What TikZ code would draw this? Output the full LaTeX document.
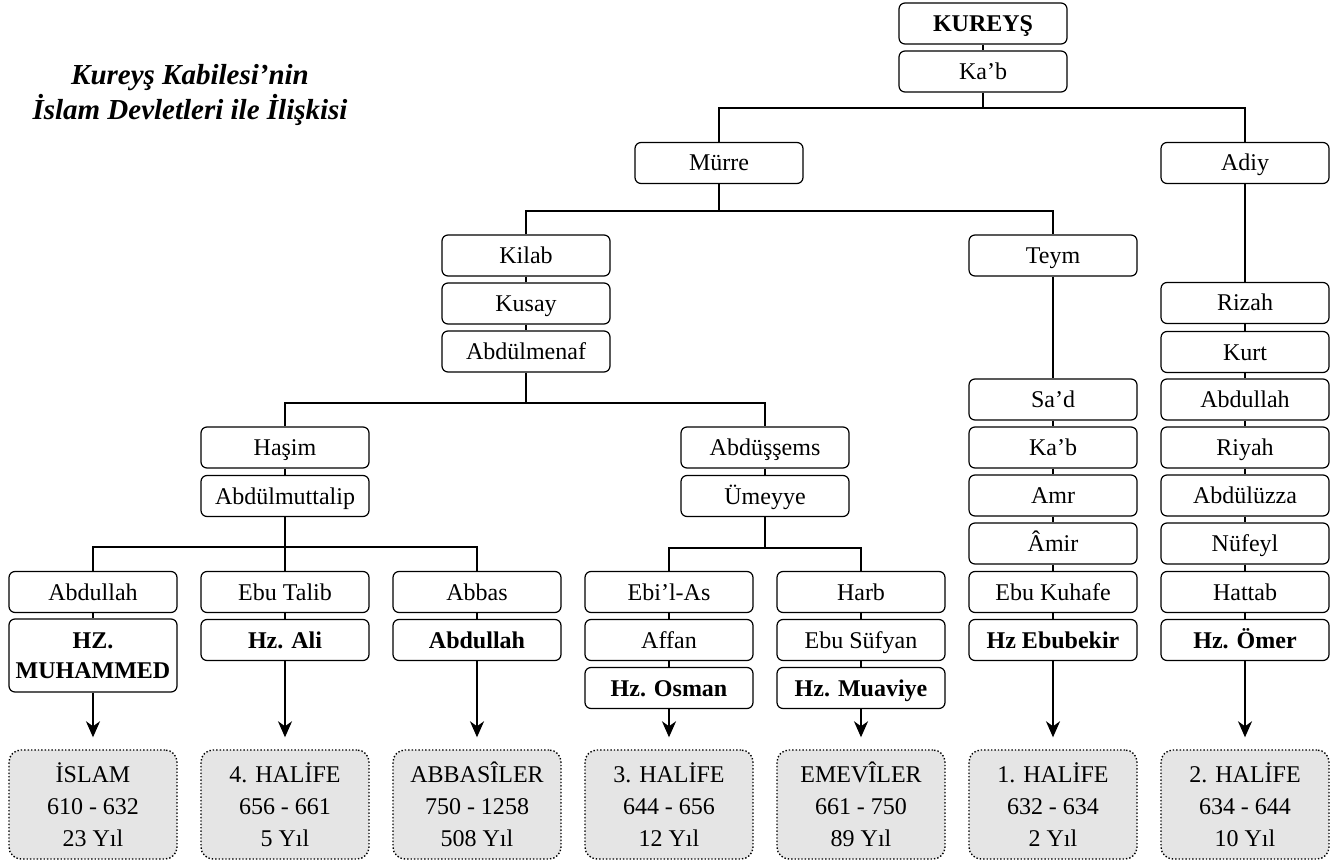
\documentclass[tikz,border=0pt]{standalone}
\usepackage{fontspec}
\setmainfont{Liberation Serif}
\usetikzlibrary{arrows.meta}
\tikzset{
    kbase/.style = {rectangle, rounded corners=3pt, draw=black, line width=0.6pt, minimum width=84pt, minimum height=20.5pt, inner sep=1pt, align=center, font=\fontsize{12}{15}\selectfont, text=black},
    kbox/.style = {kbase, text height=9pt, text depth=1pt},
    kboxb/.style = {kbox, font=\fontsize{12}{15}\selectfont\bfseries},
    kboxs/.style = {rectangle, rounded corners=6pt, draw=black, line width=0.7pt, densely dotted, fill=gray!20, minimum width=84pt, minimum height=54.5pt, inner sep=1pt, align=center, font=\fontsize{12}{16}\selectfont, text=black},
    edgen/.style = {-, line width=1pt, black},
    edgea/.style = {-{Stealth[length=8pt,width=7pt,inset=2.5pt]}, line width=1pt, black, shorten >=6pt}
}

\begin{document}
\begin{tikzpicture}[x=0.5pt,y=-0.5pt]
\useasboundingbox (0,0) rectangle (1333,861);
\node[font=\fontsize{14.5}{17.5}\selectfont\bfseries\itshape, align=center] at (190, 95) (title) {Kureyş Kabilesi’nin\\İslam Devletleri ile İlişkisi};
%
\node[kboxb] at (983, 23.5) (t1) {KUREYŞ};
\node[kbox] at (983, 71.5) (t2) {Ka’b};
\node[kbox] at (719, 163) (m1) {Mürre};
\node[kbox] at (1245, 163) (a1) {Adiy};
\node[kbox] at (526, 255.5) (m2) {Kilab};
\node[kbox] at (526, 303.5) (m3) {Kusay};
\node[kbox] at (526, 351.5) (m4) {Abdülmenaf};
\node[kbox] at (1053, 255.5) (y1) {Teym};
\node[kbox] at (285, 447.5) (h1) {Haşim};
\node[kbox] at (285, 496) (h2) {Abdülmuttalip};
\node[kbox] at (765, 447.5) (s1) {Abdüşşems};
\node[kbox] at (765, 496) (s2) {Ümeyye};
%
\node[kbox] at (93, 592) (c1) {Abdullah};
\node[kbase, minimum height=36.5pt, font=\fontsize{12}{15}\selectfont\bfseries] at (93, 655.5) (c1b) {HZ.\\MUHAMMED};
\node[kbox] at (285, 592) (c2) {Ebu Talib};
\node[kboxb] at (285, 640) (c2b) {Hz. Ali};
\node[kbox] at (477, 592) (c3) {Abbas};
\node[kboxb] at (477, 640) (c3b) {Abdullah};
\node[kbox] at (669, 592) (d1) {Ebi’l-As};
\node[kbox] at (669, 640) (d2) {Affan};
\node[kboxb] at (669, 688) (d3) {Hz. Osman};
\node[kbox] at (861, 592) (e1) {Harb};
\node[kbox] at (861, 640) (e2) {Ebu Süfyan};
\node[kboxb] at (861, 688) (e3) {Hz. Muaviye};
%
\node[kbox] at (1053, 399.5) (y2) {Sa’d};
\node[kbox] at (1053, 447.5) (y3) {Ka’b};
\node[kbox] at (1053, 495.5) (y4) {Amr};
\node[kbox] at (1053, 543.5) (y5) {Âmir};
\node[kbox] at (1053, 592) (y6) {Ebu Kuhafe};
\node[kboxb] at (1053, 640) (y7) {Hz Ebubekir};
%
\node[kbox] at (1245, 303) (a2) {Rizah};
\node[kbox] at (1245, 352) (a3) {Kurt};
\node[kbox] at (1245, 399.5) (a4) {Abdullah};
\node[kbox] at (1245, 447.5) (a5) {Riyah};
\node[kbox] at (1245, 495.5) (a6) {Abdülüzza};
\node[kbox] at (1245, 543.5) (a7) {Nüfeyl};
\node[kbox] at (1245, 592) (a8) {Hattab};
\node[kboxb] at (1245, 640) (a9) {Hz. Ömer};
%
\node[kboxs] at (93, 804.5) (r1) {İSLAM\\610 - 632\\23 Yıl};
\node[kboxs] at (285, 804.5) (r2) {4. HALİFE\\656 - 661\\5 Yıl};
\node[kboxs] at (477, 804.5) (r3) {ABBASÎLER\\750 - 1258\\508 Yıl};
\node[kboxs] at (669, 804.5) (r4) {3. HALİFE\\644 - 656\\12 Yıl};
\node[kboxs] at (861, 804.5) (r5) {EMEVÎLER\\661 - 750\\89 Yıl};
\node[kboxs] at (1053, 804.5) (r6) {1. HALİFE\\632 - 634\\2 Yıl};
\node[kboxs] at (1245, 804.5) (r7) {2. HALİFE\\634 - 644\\10 Yıl};
%
\coordinate (j1) at (983, 108);
\coordinate (j2) at (719, 211);
\coordinate (j3) at (526, 403);
\coordinate (j4) at (285, 547);
\coordinate (j5) at (765, 548);
%
\draw[edgen] (t1) edge (t2);
\draw[edgen] (t2) -- (j1);
\draw[edgen] (m1) |- (j1) -| (a1);
\draw[edgen] (m1) -- (j2);
\draw[edgen] (m2) |- (j2) -| (y1);
\draw[edgen] (m2) edge (m3);
\draw[edgen] (m3) edge (m4);
\draw[edgen] (m4) -- (j3);
\draw[edgen] (h1) |- (j3) -| (s1);
\draw[edgen] (h1) edge (h2);
\draw[edgen] (h2) -- (c2);
\draw[edgen] (c1) |- (j4) -| (c3);
\draw[edgen] (s1) edge (s2);
\draw[edgen] (s2) -- (j5);
\draw[edgen] (d1) |- (j5) -| (e1);
\draw[edgen] (c1) edge (c1b);
\draw[edgen] (c2) edge (c2b);
\draw[edgen] (c3) edge (c3b);
\draw[edgen] (d1) edge (d2);
\draw[edgen] (d2) edge (d3);
\draw[edgen] (e1) edge (e2);
\draw[edgen] (e2) edge (e3);
\draw[edgen] (y1) edge (y2);
\draw[edgen] (y2) edge (y3);
\draw[edgen] (y3) edge (y4);
\draw[edgen] (y4) edge (y5);
\draw[edgen] (y5) edge (y6);
\draw[edgen] (y6) edge (y7);
\draw[edgen] (a1) edge (a2);
\draw[edgen] (a2) edge (a3);
\draw[edgen] (a3) edge (a4);
\draw[edgen] (a4) edge (a5);
\draw[edgen] (a5) edge (a6);
\draw[edgen] (a6) edge (a7);
\draw[edgen] (a7) edge (a8);
\draw[edgen] (a8) edge (a9);
%
\draw[edgea] (c1b) -- (r1);
\draw[edgea] (c2b) -- (r2);
\draw[edgea] (c3b) -- (r3);
\draw[edgea] (d3) -- (r4);
\draw[edgea] (e3) -- (r5);
\draw[edgea] (y7) -- (r6);
\draw[edgea] (a9) -- (r7);

\end{tikzpicture}
\end{document}
